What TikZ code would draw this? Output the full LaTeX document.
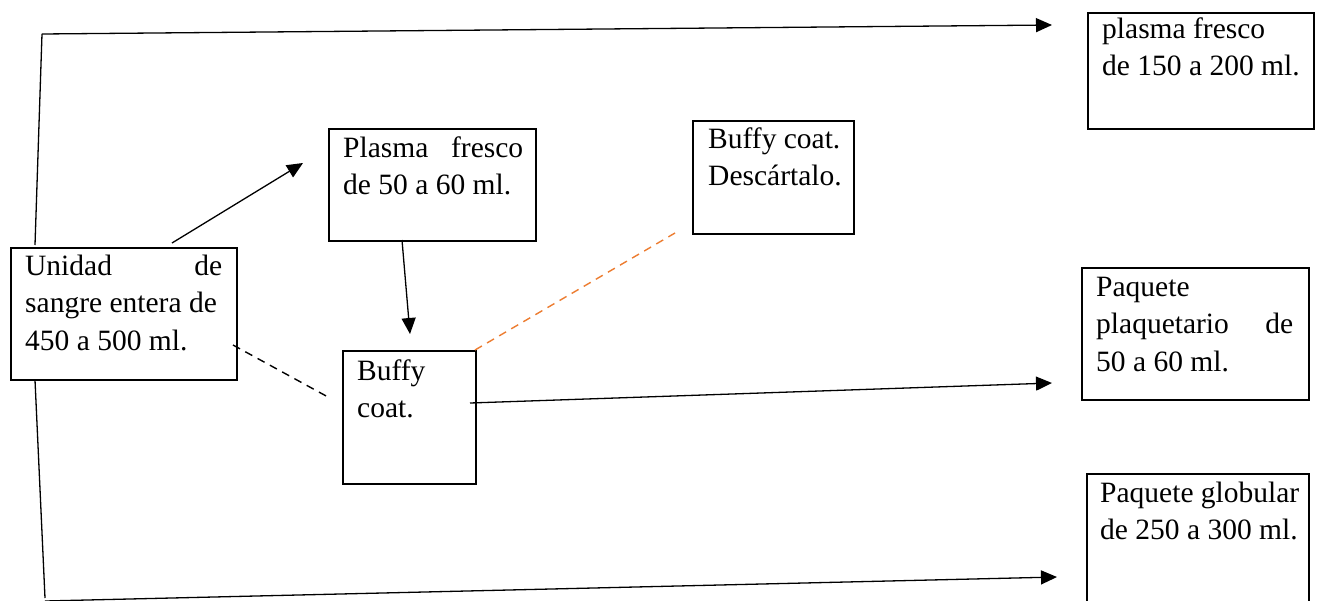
\documentclass[tikz,border=0pt]{standalone}
\usepackage{fontspec}
\setmainfont{Liberation Serif}
\usetikzlibrary{arrows.meta}
\definecolor{wordorange}{HTML}{ED7D31}
\begin{document}
\begin{tikzpicture}[x=1pt,y=-1pt,
  box/.style={draw=black, line width=2.2pt, rectangle, anchor=north west, inner sep=0pt},
  txt/.style={anchor=north west, inner sep=0pt, align=flush left,
    font=\fontsize{29.5}{37.5}\selectfont},
  conn/.style={draw=black, line width=1.3pt},
  arr/.style={conn, -{Triangle[length=16pt,width=14pt]}},
  dashblack/.style={draw=black, line width=1.4pt, dash pattern=on 8pt off 6pt},
  dashorange/.style={draw=wordorange, line width=1.4pt, dash pattern=on 8pt off 6pt}
]
\useasboundingbox (0,0) rectangle (1319,600);
\fill[white] (0,0) rectangle (1319,600);
\clip (0,0) rectangle (1319,600);

% boxes
\node[box, minimum width=226pt, minimum height=132pt] (unidad) at (10,247) {};
\node[box, minimum width=207pt, minimum height=112pt] (plasma) at (328,128) {};
\node[box, minimum width=133pt, minimum height=133pt] (buffy) at (342,350) {};
\node[box, minimum width=161pt, minimum height=113pt] (descarte) at (692,120) {};
\node[box, minimum width=226pt, minimum height=116pt] (pfresco) at (1087,12) {};
\node[box, minimum width=227pt, minimum height=132pt] (plaq) at (1081,267) {};
\node[box, minimum width=222pt, minimum height=160pt] (glob) at (1086,473) {};

% texts
\node[txt, text width=197pt] (tunidad) at (25,248.75) {\strut Unidad\hfill de\\sangre entera de\\450 a 500 ml.};
\node[txt, text width=180pt] (tplasma) at (343,130.75) {\strut Plasma\hfill fresco\\de 50 a 60 ml.};
\node[txt, text width=110pt] (tbuffy) at (357,353.75) {\strut Buffy\\coat.};
\node[txt, text width=140pt] (tdescarte) at (708,121.75) {\strut Buffy coat.\\Descártalo.};
\node[txt, text width=205pt] (tpfresco) at (1102,11.75) {\strut plasma fresco\\de 150 a 200 ml.};
\node[txt, text width=197pt] (tplaq) at (1096,269.75) {\strut Paquete\\plaquetario\hfill de\\50 a 60 ml.};
\node[txt, text width=205pt] (tglob) at (1100,475.75) {\strut Paquete globular\\de 250 a 300 ml.};

% connector end points
\coordinate (topcorner) at (42,34);
\coordinate (unidadtop) at (35,245);
\coordinate (unidadbot) at (35,380);
\coordinate (botcorner) at (45,598);
\coordinate (toptip) at (1052,25);
\coordinate (bottip) at (1057,577);
\coordinate (uplasmaS) at (172,243);
\coordinate (uplasmaE) at (303,163);
\coordinate (pbuffyS) at (402,240);
\coordinate (pbuffyE) at (410,334);
\coordinate (udashS) at (233,345);
\coordinate (udashE) at (328,397);
\coordinate (odashS) at (475,350);
\coordinate (odashE) at (675,233);
\coordinate (bplaqS) at (470,403);
\coordinate (bplaqE) at (1052,383);

% connectors
\draw[conn] (unidadtop) -- (topcorner);
\draw[arr] (topcorner) -- (toptip);
\draw[conn] (unidadbot) -- (botcorner);
\draw[arr] ([yshift=-3pt]botcorner) -- (bottip);
\draw[arr] (uplasmaS) -- (uplasmaE);
\draw[arr] (pbuffyS) -- (pbuffyE);
\draw[dashblack] (udashS) -- (udashE);
\draw[dashorange] (odashS) -- (odashE);
\draw[arr] (bplaqS) -- (bplaqE);
\end{tikzpicture}
\end{document}
